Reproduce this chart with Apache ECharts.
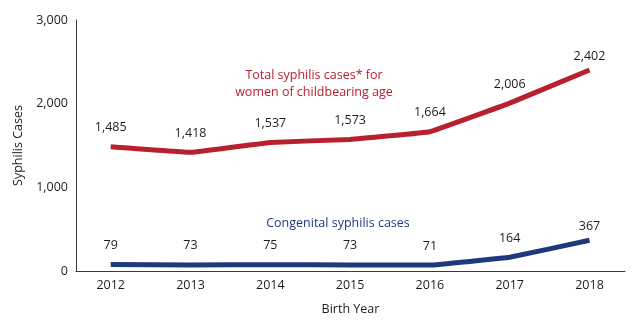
<!DOCTYPE html>
<html>
<head>
<meta charset="utf-8">
<script src="https://cdn.jsdelivr.net/npm/echarts@6/dist/echarts.min.js"></script>
<style>
  html, body { margin: 0; padding: 0; background: #ffffff; }
  #chart { width: 635px; height: 326px; }
</style>
</head>
<body>
<div id="chart"></div>
<script>
// Birth years and case counts
const years = [2012, 2013, 2014, 2015, 2016, 2017, 2018];
const totalWomen = [1485, 1418, 1537, 1573, 1664, 2006, 2402];
const congenital = [79, 73, 75, 73, 71, 164, 367];
const yTicks = [0, 1000, 2000, 3000];

const FONT = '"Open Sans", "Noto Sans", sans-serif';
const RED = '#b8202e';
const BLUE = '#1f3a7c';
const TEXT = '#1e1b1c';

const fmt = (v) => v.toLocaleString('en-US');

// the last point of each line keeps its label a little closer to the line end
const points = (vals) => years.map((y, i) => {
  const item = { value: [y, vals[i]] };
  if (i === years.length - 1) item.label = { distance: 7 };
  return item;
});

const lineSeries = (name, vals, color) => ({
  name: name,
  type: 'line',
  data: points(vals),
  smooth: 0.05,
  symbol: 'circle',
  symbolSize: 1,
  showSymbol: true,
  itemStyle: { color: 'rgba(255,255,255,0)', borderWidth: 0 },
  lineStyle: { color: color, width: 5, cap: 'butt', join: 'round' },
  label: {
    show: true, position: 'top', distance: 12,
    formatter: (p) => fmt(p.value[1]),
    fontFamily: FONT, fontSize: 12.5, color: TEXT
  }
});

const chart = echarts.init(document.getElementById('chart'), null, { renderer: 'canvas' });

chart.setOption({
  animation: false,
  backgroundColor: '#ffffff',
  grid: { left: 76, right: 10, top: 20, bottom: 55, containLabel: false },
  xAxis: {
    type: 'value',
    min: 2011.565,
    max: 2018.445,
    name: 'Birth Year',
    nameLocation: 'middle',
    nameGap: 32,
    nameTextStyle: { fontFamily: FONT, fontSize: 12.5, color: TEXT },
    axisLine: { show: true, lineStyle: { color: '#3a3a3a', width: 1 } },
    axisTick: { show: false },
    splitLine: { show: false },
    axisLabel: {
      customValues: years,
      formatter: (v) => String(v),
      fontFamily: FONT, fontSize: 12.5, color: TEXT, margin: 8
    }
  },
  yAxis: {
    type: 'value',
    min: 0,
    max: 3000,
    interval: 1000,
    name: 'Syphilis Cases',
    nameLocation: 'middle',
    nameGap: 47,
    nameRotate: 90,
    nameTextStyle: { fontFamily: FONT, fontSize: 12.5, color: TEXT },
    axisLine: { show: true, lineStyle: { color: '#3a3a3a', width: 1 } },
    axisTick: { show: false },
    splitLine: { show: false },
    axisLabel: {
      customValues: yTicks,
      formatter: (v) => fmt(v),
      fontFamily: FONT, fontSize: 12.5, color: TEXT, margin: 8
    }
  },
  series: [
    lineSeries('Total syphilis cases', totalWomen, RED),
    lineSeries('Congenital syphilis cases', congenital, BLUE)
  ],
  graphic: [
    {
      type: 'text', x: 314, y: 84,
      style: {
        text: 'Total syphilis cases* for\nwomen of childbearing age',
        align: 'center', verticalAlign: 'middle',
        fill: RED, font: '12.5px ' + FONT, lineHeight: 17
      }
    },
    {
      type: 'text', x: 338, y: 223,
      style: {
        text: 'Congenital syphilis cases',
        align: 'center', verticalAlign: 'middle',
        fill: BLUE, font: '12.5px ' + FONT
      }
    }
  ]
});
</script>
</body>
</html>
